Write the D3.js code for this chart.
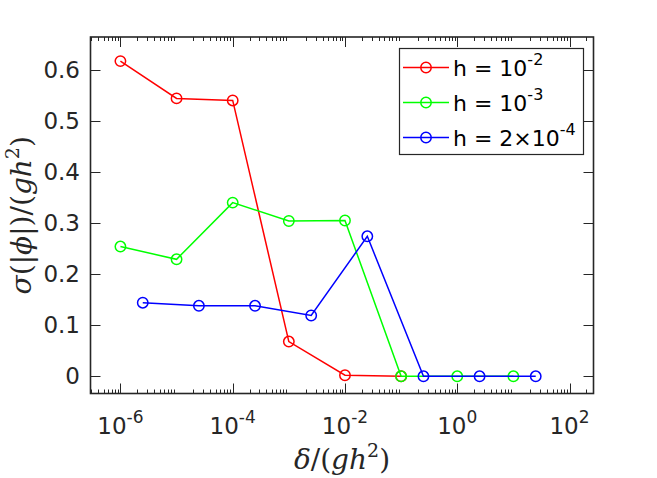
<!DOCTYPE html>
<html>
<head>
<meta charset="utf-8">
<script src="https://cdn.jsdelivr.net/npm/d3@7"></script>
<style>
html,body{margin:0;padding:0;background:#fff;}
svg{display:block;}
</style>
</head>
<body>
<svg id="chart" width="657" height="478"></svg>
<script>
// ---- data ----
const redX   = [1e-6, 1e-5, 1e-4, 1e-3, 1e-2, 1e-1];
const redY   = [0.617, 0.544, 0.540, 0.068, 0.002, 0];
const greenX = [1e-6, 1e-5, 1e-4, 1e-3, 1e-2, 1e-1, 1e0, 1e1];
const greenY = [0.254, 0.229, 0.340, 0.304, 0.305, 0, 0, 0];
const blueX  = [2.5e-6, 2.5e-5, 2.5e-4, 2.5e-3, 2.5e-2, 2.5e-1, 2.5, 25];
const blueY  = [0.144, 0.138, 0.138, 0.119, 0.274, 0, 0, 0];
const xTickVals = [1e-6, 1e-4, 1e-2, 1e0, 1e2];
const xTickExps = ["-6", "-4", "-2", "0", "2"];
const yTickVals = [0, 0.1, 0.2, 0.3, 0.4, 0.5, 0.6];
const yTickLabels = ["0", "0.1", "0.2", "0.3", "0.4", "0.5", "0.6"];
const legendBase = ["h = 10", "h = 10", "h = 2\u00D710"];
const legendExp = ["-2", "-3", "-4"];
const seriesColors = ["#ff0000", "#00ff00", "#0000ff"];

const series = [
  {x: redX, y: redY},
  {x: greenX, y: greenY},
  {x: blueX, y: blueY}
];

// ---- layout ----
const L = 90.5, R = 593.5, T = 37, B = 393.5;
const axisColor = "#262626";
const svg = d3.select("#chart");

const x = d3.scaleLog().domain([Math.pow(10, -6.533), Math.pow(10, 2.427)]).range([L, R]);
const y = d3.scaleLinear().domain([-0.0337, 0.6642]).range([B, T]);

// minor ticks
const minor = [];
for (let e = -7; e <= 2; e++) {
  for (let m = 2; m <= 9; m++) {
    const v = m * Math.pow(10, e);
    if (v > x.domain()[0] && v < x.domain()[1]) minor.push(v);
  }
}

const g = svg.append("g");

// data lines and markers
const line = d3.line().x(d => x(d[0])).y(d => y(d[1]));
series.forEach((s, i) => {
  const pts = s.x.map((v, j) => [v, s.y[j]]);
  g.append("path").datum(pts).attr("d", line)
    .attr("fill", "none").attr("stroke", seriesColors[i]).attr("stroke-width", 1.5);
  g.selectAll(null).data(pts).enter().append("circle")
    .attr("cx", d => x(d[0])).attr("cy", d => y(d[1])).attr("r", 5.2)
    .attr("fill", "none").attr("stroke", seriesColors[i]).attr("stroke-width", 1.5);
});

// ticks
const ax = svg.append("g").attr("stroke", axisColor).attr("stroke-width", 1);
xTickVals.forEach(v => {
  const px = Math.round(x(v)) + 0.5;
  ax.append("line").attr("x1", px).attr("x2", px).attr("y1", B).attr("y2", B - 10);
  ax.append("line").attr("x1", px).attr("x2", px).attr("y1", T).attr("y2", T + 10);
});
minor.forEach(v => {
  const px = Math.round(x(v)) + 0.5;
  ax.append("line").attr("x1", px).attr("x2", px).attr("y1", B).attr("y2", B - 4);
  ax.append("line").attr("x1", px).attr("x2", px).attr("y1", T).attr("y2", T + 4);
});
yTickVals.forEach(v => {
  const py = Math.round(y(v)) + 0.5;
  ax.append("line").attr("x1", L).attr("x2", L + 10).attr("y1", py).attr("y2", py);
  ax.append("line").attr("x1", R).attr("x2", R - 10).attr("y1", py).attr("y2", py);
});
// box
svg.append("rect").attr("x", L).attr("y", T).attr("width", R - L).attr("height", B - T)
  .attr("fill", "none").attr("stroke", axisColor).attr("stroke-width", 1.6);

// tick labels
const font = "'DejaVu Sans', sans-serif";
yTickVals.forEach((v, i) => {
  svg.append("text").attr("x", 80).attr("y", y(v) + 8)
    .attr("text-anchor", "end").attr("font-family", font).attr("font-size", 23)
    .attr("fill", axisColor).text(yTickLabels[i]);
});
xTickVals.forEach((v, i) => {
  const t = svg.append("text").attr("x", x(v)).attr("y", 434)
    .attr("text-anchor", "middle").attr("font-family", font).attr("font-size", 23)
    .attr("fill", axisColor);
  t.append("tspan").text("10");
  t.append("tspan").attr("dy", -11).attr("font-size", 17).text(xTickExps[i]);
});

// axis labels (LaTeX-like)
const serif = "'DejaVu Serif', serif";
const xl = svg.append("text").attr("x", (L + R) / 2).attr("y", 469)
  .attr("text-anchor", "middle").attr("font-family", serif).attr("font-size", 28).attr("fill", axisColor);
xl.append("tspan").attr("font-style", "italic").text("\u03B4");
xl.append("tspan").text("/(");
xl.append("tspan").attr("font-style", "italic").text("gh");
xl.append("tspan").attr("dy", -12).attr("font-size", 19).text("2");
xl.append("tspan").attr("dy", 12).text(")");

const yl = svg.append("text").attr("transform", `translate(31,${(T + B) / 2}) rotate(-90)`)
  .attr("text-anchor", "middle").attr("font-family", serif).attr("font-size", 28).attr("fill", axisColor);
yl.append("tspan").attr("font-style", "italic").text("\u03C3");
yl.append("tspan").text("(|");
yl.append("tspan").attr("font-style", "italic").text("\u03D5");
yl.append("tspan").text("|)/(");
yl.append("tspan").attr("font-style", "italic").text("gh");
yl.append("tspan").attr("dy", -12).attr("font-size", 19).text("2");
yl.append("tspan").attr("dy", 12).text(")");

// legend
const lg = svg.append("g");
lg.append("rect").attr("x", 399.5).attr("y", 48.5).attr("width", 184).attr("height", 106)
  .attr("fill", "#fff").attr("stroke", axisColor).attr("stroke-width", 1.2);
legendBase.forEach((txt, i) => {
  const cy = 67.5 + i * 35;
  lg.append("line").attr("x1", 403).attr("x2", 449).attr("y1", cy).attr("y2", cy)
    .attr("stroke", seriesColors[i]).attr("stroke-width", 1.5);
  lg.append("circle").attr("cx", 426).attr("cy", cy).attr("r", 5.2)
    .attr("fill", "none").attr("stroke", seriesColors[i]).attr("stroke-width", 1.5);
  const t = lg.append("text").attr("x", 453).attr("y", cy + 8)
    .attr("font-family", font).attr("font-size", 22).attr("fill", "#000");
  t.append("tspan").text(txt);
  t.append("tspan").attr("dy", -11).attr("font-size", 16).text(legendExp[i]);
});
</script>
</body>
</html>
